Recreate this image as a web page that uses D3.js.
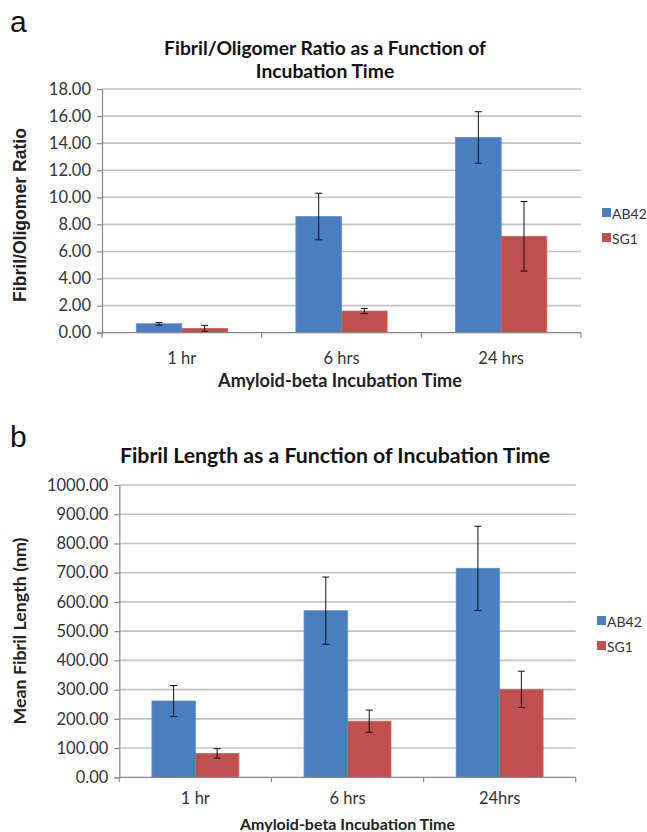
<!DOCTYPE html>
<html><head><meta charset="utf-8">
<script src="https://cdn.jsdelivr.net/npm/d3@7"></script>
<style>
body{margin:0;background:#fff;}
svg{display:block;font-family:Lato,"Open Sans",sans-serif;}
</style></head>
<body>
<svg id="c" width="647" height="832"></svg>
<script>
// ---- Data ----
const seriesNames = ["AB42", "SG1"];
const seriesColors = ["#4A7EBF", "#C0504D"];

const categoriesA = ["1 hr", "6 hrs", "24 hrs"];
const ab42RatioA = [0.66, 8.58, 14.42];
const ab42RatioErrA = [0.10, 1.72, 1.90];
const sg1RatioA = [0.32, 1.60, 7.12];
const sg1RatioErrA = [0.22, 0.19, 2.57];
const ticksA = [0, 2, 4, 6, 8, 10, 12, 14, 16, 18];

const categoriesB = ["1 hr", "6 hrs", "24hrs"];
const ab42LengthB = [261, 570, 715];
const ab42LengthErrB = [53, 115, 144];
const sg1LengthB = [82, 192, 301];
const sg1LengthErrB = [16, 38, 62];
const ticksB = [0, 100, 200, 300, 400, 500, 600, 700, 800, 900, 1000];

const svg = d3.select("#c");

// scale a text's font so its rendered width matches a target width
function fitWidth(sel, target) {
  const fs = parseFloat(sel.attr("font-size"));
  const w = sel.node().getComputedTextLength();
  if (w > 0) sel.attr("font-size", (fs * target / w).toFixed(2));
  return sel;
}

function drawChart(cfg) {
  const g = svg.append("g");
  const x = d3.scaleBand().domain(cfg.categories).range([cfg.x0, cfg.x1]).padding(0);
  const xs = d3.scaleBand().domain(seriesNames).range([0, x.bandwidth()]).paddingInner(0).paddingOuter(0.75);
  const y = d3.scaleLinear().domain([0, d3.max(cfg.ticks)]).range([cfg.y0, cfg.y1]);

  // gridlines
  g.selectAll(".grid").data(cfg.ticks.filter(t => t > 0)).join("line")
    .attr("x1", cfg.x0).attr("x2", cfg.x1)
    .attr("y1", d => y(d)).attr("y2", d => y(d))
    .attr("stroke", "#c4c4c4").attr("stroke-width", 1.6);

  // y axis
  const yAxis = d3.axisLeft(y).tickValues(cfg.ticks).tickFormat(d3.format(".2f")).tickSize(5).tickPadding(6);
  const ya = g.append("g").attr("transform", `translate(${cfg.x0},0)`).call(yAxis);
  ya.select(".domain").attr("stroke", "#868686").attr("stroke-width", 1.2);
  ya.selectAll(".tick line").attr("stroke", "#868686").attr("stroke-width", 1.2);
  ya.selectAll(".tick text").attr("font-size", 16.5).attr("fill", "#333").attr("font-family", "Lato");

  // bars
  const data = [];
  cfg.categories.forEach((c, i) => {
    seriesNames.forEach((s, j) => {
      data.push({c, s, v: cfg.values[j][i], e: cfg.errors[j][i], color: seriesColors[j]});
    });
  });
  g.selectAll(".bar").data(data).join("rect")
    .attr("x", d => x(d.c) + xs(d.s))
    .attr("y", d => y(d.v))
    .attr("width", xs.bandwidth())
    .attr("height", d => y(0) - y(d.v))
    .attr("fill", d => d.color)
    .attr("stroke", d => d3.color(d.color).brighter(0.4))
    .attr("stroke-width", 0.8);

  // error bars
  const eb = g.selectAll(".eb").data(data).join("g");
  const cx = d => x(d.c) + xs(d.s) + xs.bandwidth() / 2;
  eb.append("line").attr("x1", cx).attr("x2", cx)
    .attr("y1", d => y(d.v + d.e)).attr("y2", d => y(Math.max(0, d.v - d.e)))
    .attr("stroke", "#111").attr("stroke-width", 1);
  eb.append("line").attr("x1", d => cx(d) - 3.5).attr("x2", d => cx(d) + 3.5)
    .attr("y1", d => y(d.v + d.e)).attr("y2", d => y(d.v + d.e))
    .attr("stroke", "#111").attr("stroke-width", 1);
  eb.append("line").attr("x1", d => cx(d) - 3.5).attr("x2", d => cx(d) + 3.5)
    .attr("y1", d => y(Math.max(0, d.v - d.e))).attr("y2", d => y(Math.max(0, d.v - d.e)))
    .attr("stroke", "#111").attr("stroke-width", 1);

  // x axis
  g.append("line").attr("x1", cfg.x0).attr("x2", cfg.x1).attr("y1", y(0)).attr("y2", y(0))
    .attr("stroke", "#868686").attr("stroke-width", 1.2);
  const bounds = cfg.categories.map(c => x(c)).concat([cfg.x1]);
  g.selectAll(".xt").data(bounds).join("line")
    .attr("x1", d => d).attr("x2", d => d).attr("y1", y(0)).attr("y2", y(0) + 5)
    .attr("stroke", "#868686").attr("stroke-width", 1.2);
  g.selectAll(".xl").data(cfg.categories).join("text")
    .attr("x", d => x(d) + x.bandwidth() / 2).attr("y", cfg.xLabelY)
    .attr("text-anchor", "middle").attr("font-size", 16.5).attr("fill", "#333")
    .text(d => d);

  // axis titles
  const xt = g.append("text").attr("x", cfg.xTitleCx).attr("y", cfg.xTitleY)
    .attr("text-anchor", "middle").attr("font-size", 16).attr("font-weight", "bold").attr("fill", "#222")
    .text(cfg.xTitle);
  fitWidth(xt, cfg.xTitleW);
  const yt = g.append("text").attr("transform", `translate(${cfg.yTitleX},${cfg.yTitleCy}) rotate(-90)`)
    .attr("text-anchor", "middle").attr("font-size", 16).attr("font-weight", "bold").attr("fill", "#222")
    .attr("font-family", cfg.yTitleFont)
    .text(cfg.yTitle);
  fitWidth(yt, cfg.yTitleW);

  // title
  let tsize = null;
  cfg.title.forEach((t, i) => {
    const tt = g.append("text").attr("x", cfg.titleX).attr("y", cfg.titleY + i * 23)
      .attr("text-anchor", "middle").attr("font-size", 20).attr("font-weight", "bold").attr("fill", "#111")
      .text(t);
    if (i === 0) { fitWidth(tt, cfg.titleW); tsize = tt.attr("font-size"); }
    else tt.attr("font-size", tsize);
  });

  // legend
  seriesNames.forEach((s, i) => {
    const ly = cfg.legendY + i * 25;
    g.append("rect").attr("x", cfg.legendX).attr("y", ly - 5).attr("width", 9).attr("height", 9).attr("fill", seriesColors[i]);
    g.append("text").attr("x", cfg.legendX + 10).attr("y", ly + 5.5).attr("font-size", 14).attr("fill", "#333").text(s);
  });

  // panel letter
  g.append("text").attr("x", cfg.letterX).attr("y", cfg.letterY).attr("font-size", 30)
    .attr("font-family", "Liberation Sans, Arial, sans-serif").attr("fill", "#111").text(cfg.letter);
}

drawChart({
  categories: categoriesA, values: [ab42RatioA, sg1RatioA], errors: [ab42RatioErrA, sg1RatioErrA],
  ticks: ticksA, x0: 102, x1: 581, y0: 332.7, y1: 89,
  xLabelY: 364, xTitle: "Amyloid-beta Incubation Time", xTitleCx: 340, xTitleY: 387, xTitleW: 244,
  yTitleX: 26, yTitleCy: 215, yTitle: "Fibril/Oligomer Ratio", yTitleW: 174, yTitleFont: "Liberation Sans, Arial, sans-serif",
  title: ["Fibril/Oligomer Ratio as a Function of", "Incubation Time"], titleX: 325, titleY: 55, titleW: 322,
  legendX: 602, legendY: 213, letter: "a", letterX: 10, letterY: 32
});

drawChart({
  categories: categoriesB, values: [ab42LengthB, sg1LengthB], errors: [ab42LengthErrB, sg1LengthErrB],
  ticks: ticksB, x0: 119.3, x1: 575.7, y0: 777.3, y1: 485,
  xLabelY: 804, xTitle: "Amyloid-beta Incubation Time", xTitleCx: 347.5, xTitleY: 830, xTitleW: 215,
  yTitleX: 26, yTitleCy: 631, yTitle: "Mean Fibril Length (nm)", yTitleW: 187, yTitleFont: "Lato",
  title: ["Fibril Length as a Function of Incubation Time"], titleX: 335, titleY: 463, titleW: 430,
  legendX: 597, legendY: 621, letter: "b", letterX: 10, letterY: 447
});
</script>
</body></html>
